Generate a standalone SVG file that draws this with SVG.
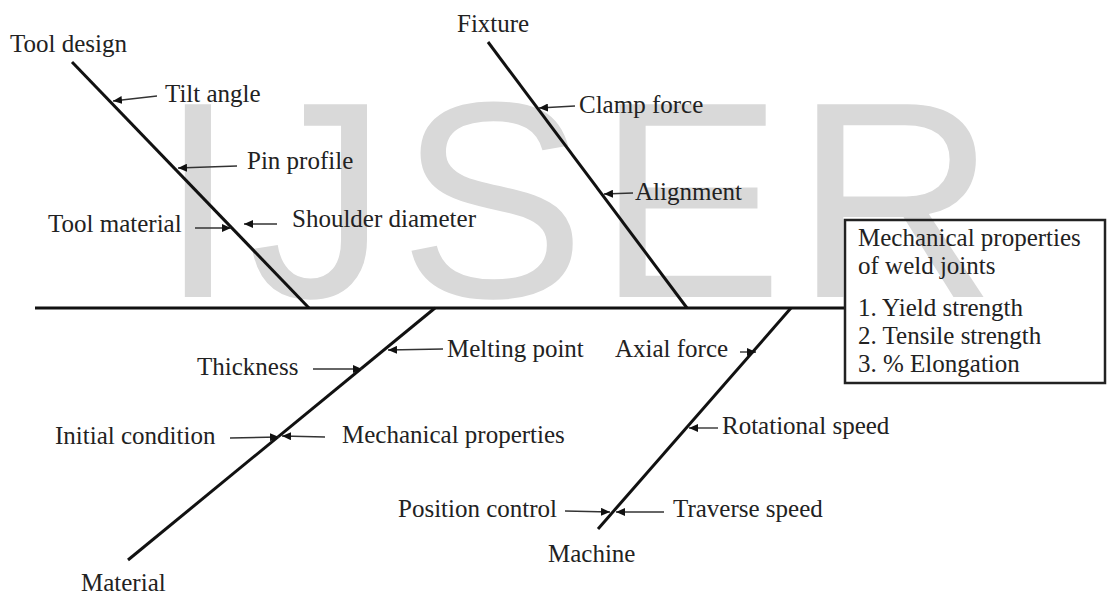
<svg xmlns="http://www.w3.org/2000/svg" width="1107" height="595" viewBox="0 0 1107 595">
  <style>
    .t { font-family: "Liberation Serif", "Times New Roman", serif; font-size: 25px; fill: #222; }
    .wm { font-family: "Liberation Sans", Arial, sans-serif; font-size: 280px; fill: #d9d9d9; letter-spacing: 11px; }
    .bone { stroke: #111; stroke-width: 3; fill: none; stroke-linecap: butt; }
    .lead { stroke: #333; stroke-width: 1.4; fill: none; marker-end: url(#ah); }
    .box { fill: none; stroke: #222; stroke-width: 2.5; }
  </style>
  <defs>
    <marker id="ah" markerUnits="userSpaceOnUse" markerWidth="9" markerHeight="8" refX="9" refY="4" orient="auto">
      <path d="M0,0 L9,4 L0,8 z" fill="#111"/>
    </marker>
  </defs>
  <rect width="1107" height="595" fill="#fff"/>
  <text id="watermark" class="wm" x="159" y="297">IJSER</text>

  <g id="connectors">
    <line class="bone" x1="35" y1="308" x2="845" y2="308"/>
    <line class="bone" x1="72" y1="62" x2="309" y2="308"/>
    <line class="bone" x1="488" y1="42" x2="687" y2="308"/>
    <line class="bone" x1="435" y1="308" x2="128" y2="560"/>
    <line class="bone" x1="791" y1="308" x2="598" y2="529"/>
    <line class="lead" x1="157" y1="96" x2="113" y2="101"/>
    <line class="lead" x1="237" y1="166" x2="178" y2="168"/>
    <line class="lead" x1="195" y1="228" x2="231" y2="228"/>
    <line class="lead" x1="277" y1="224" x2="244" y2="224"/>
    <line class="lead" x1="575" y1="106" x2="539" y2="108"/>
    <line class="lead" x1="633" y1="193" x2="604" y2="194"/>
    <line class="lead" x1="443" y1="349" x2="388" y2="350"/>
    <line class="lead" x1="313" y1="369" x2="362" y2="369"/>
    <line class="lead" x1="230" y1="438" x2="279" y2="437"/>
    <line class="lead" x1="325" y1="437" x2="282" y2="436"/>
    <line class="lead" x1="740" y1="352" x2="756" y2="352"/>
    <line class="lead" x1="718" y1="428" x2="689" y2="428"/>
    <line class="lead" x1="565" y1="511" x2="610" y2="512"/>
    <line class="lead" x1="664" y1="512" x2="616" y2="512"/>
  </g>

  <g id="tool-design"><text class="t" x="10" y="52">Tool design</text></g>
  <g id="fixture"><text class="t" x="457" y="32">Fixture</text></g>
  <g id="material"><text class="t" x="81" y="591">Material</text></g>
  <g id="machine"><text class="t" x="548" y="562">Machine</text></g>

  <g id="tilt-angle"><text class="t" x="165" y="102">Tilt angle</text></g>
  <g id="pin-profile"><text class="t" x="247" y="169">Pin profile</text></g>
  <g id="tool-material"><text class="t" x="48" y="232">Tool material</text></g>
  <g id="shoulder-diameter"><text class="t" x="292" y="227">Shoulder diameter</text></g>
  <g id="clamp-force"><text class="t" x="579" y="113">Clamp force</text></g>
  <g id="alignment"><text class="t" x="635" y="200">Alignment</text></g>
  <g id="melting-point"><text class="t" x="447" y="357">Melting point</text></g>
  <g id="thickness"><text class="t" x="197" y="375">Thickness</text></g>
  <g id="initial-condition"><text class="t" x="55" y="444">Initial condition</text></g>
  <g id="mechanical-properties"><text class="t" x="342" y="443">Mechanical properties</text></g>
  <g id="axial-force"><text class="t" x="615" y="357">Axial force</text></g>
  <g id="rotational-speed"><text class="t" x="722" y="434">Rotational speed</text></g>
  <g id="position-control"><text class="t" x="398" y="517">Position control</text></g>
  <g id="traverse-speed"><text class="t" x="673" y="517">Traverse speed</text></g>

  <g id="effect">
    <rect class="box" x="845" y="220" width="260" height="163"/>
    <text class="t" x="858" y="246">Mechanical properties</text>
    <text class="t" x="858" y="274">of weld joints</text>
    <text class="t" x="858" y="316">1. Yield strength</text>
    <text class="t" x="858" y="344">2. Tensile strength</text>
    <text class="t" x="858" y="372">3. % Elongation</text>
  </g>
</svg>
